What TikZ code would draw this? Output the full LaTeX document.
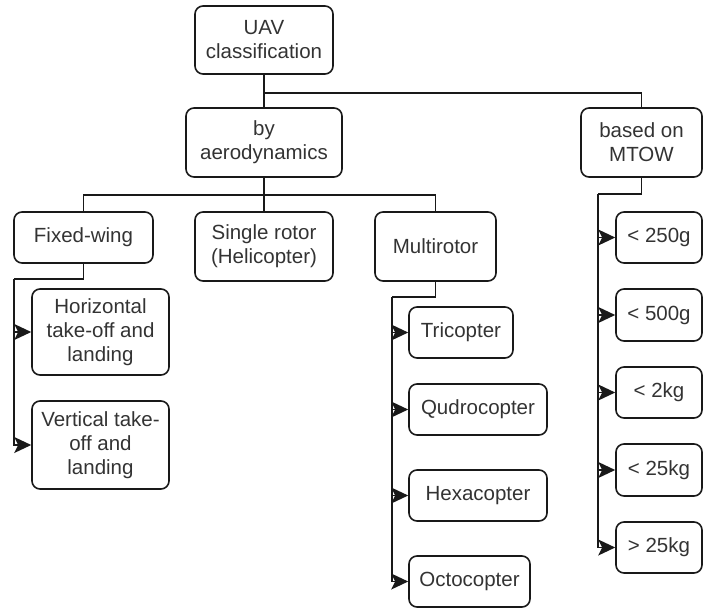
\documentclass[tikz,border=0pt]{standalone}
\usepackage{fontspec}
\setmainfont{Liberation Sans}
\usetikzlibrary{arrows.meta}
\definecolor{txt}{HTML}{333333}
\tikzset{
  box/.style={draw=black!90, line width=1.6pt, rounded corners=8pt, align=center,
    text=txt, inner sep=0pt, font=\fontsize{20.5}{24}\selectfont},
  link/.style={draw=black!90, line width=1.6pt},
  arr/.style={link, arrows={-Stealth[length=17pt,width=16pt,inset=4pt]}}
}
\begin{document}
\begin{tikzpicture}[x=1pt,y=-1pt]
\useasboundingbox (0,0) rectangle (709,608);
% top levels
\node[box, minimum width=138pt, minimum height=68pt] (uav) at (264,40) {UAV\\classification};
\node[box, minimum width=156pt, minimum height=69pt] (aero) at (264,142.5) {by\\aerodynamics};
\node[box, minimum width=121pt, minimum height=69pt] (mtow) at (641.5,142.5) {based on\\MTOW};
% aerodynamic classes
\node[box, minimum width=139pt, minimum height=51pt] (fixed) at (83.5,237.5) {Fixed-wing};
\node[box, minimum width=138pt, minimum height=69pt] (single) at (264,246.5) {Single rotor\\(Helicopter)};
\node[box, minimum width=121pt, minimum height=69pt] (multi) at (435.5,246.5) {Multirotor};
% fixed-wing subtypes
\node[box, minimum width=137pt, minimum height=86pt] (horiz) at (100.5,332) {Horizontal\\take-off and\\landing};
\node[box, minimum width=137pt, minimum height=88pt] (vert) at (100.5,445) {Vertical take-\\off and\\landing};
% multirotor subtypes
\node[box, minimum width=104pt, minimum height=51pt] (tri) at (461,332.5) {Tricopter};
\node[box, minimum width=138pt, minimum height=51pt] (quad) at (478,409.5) {Qudrocopter};
\node[box, minimum width=138pt, minimum height=51pt] (hexa) at (478,495.5) {Hexacopter};
\node[box, minimum width=121pt, minimum height=51pt] (octo) at (469.5,581.5) {Octocopter};
% weight classes
\node[box, minimum width=86pt, minimum height=51pt] (wa) at (659,237.5) {< 250g};
\node[box, minimum width=86pt, minimum height=52pt] (wb) at (659,315) {< 500g};
\node[box, minimum width=86pt, minimum height=51pt] (wc) at (659,392.5) {< 2kg};
\node[box, minimum width=86pt, minimum height=52pt] (wd) at (659,470) {< 25kg};
\node[box, minimum width=86pt, minimum height=51pt] (we) at (659,547.5) {> 25kg};
% trunk coordinates for the side branches
\coordinate (fwbend) at (14,279);
\coordinate (mrbend) at (392,297);
\coordinate (mtbend) at (598,194);
% connectors
\draw[link] (uav.south) -- (aero.north);
\draw[link] (uav.south) -- ++(0,18) -| (mtow.north);
\draw[link] (aero.south) -- ++(0,17) -| (fixed.north);
\draw[link] (aero.south) -- (single.north);
\draw[link] (aero.south) -- ++(0,17) -| (multi.north);
\draw[link] (fixed.south) |- (fwbend);
\draw[link] (multi.south) |- (mrbend);
\draw[link] (mtow.south) |- (mtbend);
% arrowed branches
\foreach \tgt in {horiz,vert}
  \draw[arr] (fwbend) |- (\tgt.west);
\foreach \tgt in {tri,quad,hexa,octo}
  \draw[arr] (mrbend) |- (\tgt.west);
\foreach \tgt in {wa,wb,wc,wd,we}
  \draw[arr] (mtbend) |- (\tgt.west);
\end{tikzpicture}
\end{document}
